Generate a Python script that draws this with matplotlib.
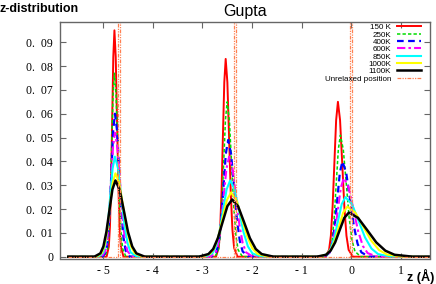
import matplotlib
matplotlib.use("Agg")
import matplotlib.pyplot as plt

# ---- data ----
labels = ["150 K", "250K", "400K", "600K", "850K", "1000K", "1100K"]

x_150 = [-5.70, -4.928, -4.883, -4.860, -4.838, -4.815, -4.793, -4.770, -4.744, -4.718, -4.692, -4.666, -4.640, -4.588,
         -2.726, -2.670, -2.642, -2.614, -2.586, -2.558, -2.530, -2.496, -2.462, -2.428, -2.394, -2.360, -2.292,
         -0.519, -0.448, -0.412, -0.377, -0.341, -0.306, -0.270, -0.227, -0.184, -0.141, -0.098, -0.055, 0.031, 1.60]
y_150 = [0, 0, .0042, .0128, .0309, .0577, .0838, .0950, .0838, .0577, .0309, .0128, .0042, 0,
         0, .0037, .0112, .0270, .0504, .0732, .0830, .0732, .0504, .0270, .0112, .0037, 0,
         0, .0029, .0088, .0211, .0395, .0573, .0650, .0573, .0395, .0211, .0088, .0029, 0, 0]

x_250 = [-5.70, -4.963, -4.908, -4.880, -4.853, -4.825, -4.798, -4.770, -4.737, -4.704, -4.671, -4.638, -4.605, -4.539,
         -2.745, -2.675, -2.640, -2.605, -2.570, -2.535, -2.500, -2.456, -2.412, -2.368, -2.324, -2.280, -2.192,
         -0.511, -0.428, -0.386, -0.345, -0.303, -0.262, -0.220, -0.162, -0.103, -0.045, 0.014, 0.073, 0.190, 1.60]
y_250 = [0, 0, .0034, .0104, .0250, .0467, .0679, .0770, .0679, .0467, .0250, .0104, .0034, 0,
         0, .0029, .0088, .0211, .0395, .0573, .0650, .0573, .0395, .0211, .0088, .0029, 0,
         0, .0022, .0069, .0166, .0310, .0450, .0510, .0450, .0310, .0166, .0069, .0022, 0, 0]

x_400 = [-5.70, -5.002, -4.933, -4.898, -4.864, -4.829, -4.795, -4.760, -4.717, -4.674, -4.631, -4.588, -4.545, -4.459,
         -2.806, -2.713, -2.666, -2.620, -2.573, -2.527, -2.480, -2.422, -2.363, -2.305, -2.246, -2.188, -2.071,
         -0.537, -0.435, -0.384, -0.333, -0.282, -0.231, -0.180, -0.104, -0.027, 0.050, 0.126, 0.203, 0.356, 1.60]
y_400 = [0, 0, .0026, .0081, .0195, .0364, .0529, .0600, .0529, .0364, .0195, .0081, .0026, 0,
         0, .0022, .0066, .0159, .0297, .0432, .0490, .0432, .0297, .0159, .0066, .0022, 0,
         0, .0018, .0054, .0130, .0243, .0353, .0400, .0353, .0243, .0130, .0054, .0018, 0, 0]

x_600 = [-5.70, -5.030, -4.953, -4.914, -4.876, -4.837, -4.799, -4.760, -4.710, -4.659, -4.609, -4.558, -4.508, -4.407,
         -2.842, -2.733, -2.678, -2.624, -2.569, -2.515, -2.460, -2.392, -2.324, -2.256, -2.188, -2.120, -1.984,
         -0.567, -0.448, -0.388, -0.329, -0.269, -0.210, -0.150, -0.055, 0.041, 0.137, 0.232, 0.328, 0.519, 1.60]
y_600 = [0, 0, .0023, .0070, .0169, .0316, .0459, .0520, .0459, .0316, .0169, .0070, .0023, 0,
         0, .0018, .0057, .0137, .0255, .0370, .0420, .0370, .0255, .0137, .0057, .0018, 0,
         0, .0015, .0045, .0107, .0200, .0291, .0330, .0291, .0200, .0107, .0045, .0015, 0, 0]

x_850 = [-5.70, -5.089, -4.995, -4.948, -4.901, -4.854, -4.807, -4.760, -4.697, -4.633, -4.570, -4.506, -4.443, -4.316,
         -2.941, -2.798, -2.726, -2.655, -2.583, -2.512, -2.440, -2.351, -2.261, -2.172, -2.082, -1.993, -1.814,
         -0.631, -0.485, -0.412, -0.339, -0.266, -0.193, -0.120, 0.012, 0.143, 0.275, 0.406, 0.538, 0.801, 1.60]
y_850 = [0, 0, .0018, .0057, .0137, .0255, .0370, .0420, .0370, .0255, .0137, .0057, .0018, 0,
         0, .0014, .0043, .0104, .0194, .0282, .0320, .0282, .0194, .0104, .0043, .0014, 0,
         0, .0011, .0034, .0081, .0152, .0221, .0250, .0221, .0152, .0081, .0034, .0011, 0, 0]

x_1000 = [-5.70, -5.135, -5.025, -4.970, -4.915, -4.860, -4.805, -4.750, -4.673, -4.596, -4.519, -4.442, -4.365, -4.211,
          -3.012, -2.843, -2.758, -2.674, -2.589, -2.505, -2.420, -2.314, -2.208, -2.102, -1.996, -1.890, -1.678,
          -0.668, -0.500, -0.416, -0.332, -0.248, -0.164, -0.080, 0.080, 0.239, 0.399, 0.558, 0.718, 1.037, 1.60]
y_1000 = [0, 0, .0015, .0047, .0114, .0212, .0309, .0350, .0309, .0212, .0114, .0047, .0015, 0,
          0, .0012, .0036, .0088, .0164, .0238, .0270, .0238, .0164, .0088, .0036, .0012, 0,
          0, .0009, .0028, .0068, .0127, .0185, .0210, .0185, .0127, .0068, .0028, .0009, 0, 0]

x_1100 = [-5.70, -5.174, -5.053, -4.992, -4.932, -4.871, -4.811, -4.750, -4.666, -4.581, -4.497, -4.412, -4.328, -4.159,
          -3.069, -2.878, -2.782, -2.687, -2.591, -2.496, -2.400, -2.281, -2.162, -2.043, -1.924, -1.805, -1.567,
          -0.694, -0.510, -0.418, -0.326, -0.234, -0.142, -0.050, 0.134, 0.318, 0.502, 0.686, 0.870, 1.238, 1.60]
y_1100 = [0, 0, .0014, .0043, .0104, .0194, .0282, .0320, .0282, .0194, .0104, .0043, .0014, 0,
          0, .0011, .0032, .0078, .0146, .0212, .0240, .0212, .0146, .0078, .0032, .0011, 0,
          0, .0008, .0025, .0060, .0112, .0163, .0185, .0163, .0112, .0060, .0025, .0008, 0, 0]

unrelaxed = [-4.69, -2.36, -0.02]

xticks = [-5, -4, -3, -2, -1, 0, 1]
xtick_labels = ["- 5", "- 4", "- 3", "- 2", "- 1", "0", "1"]
yticks = [0, 0.01, 0.02, 0.03, 0.04, 0.05, 0.06, 0.07, 0.08, 0.09]
ytick_labels = ["0"] + ["0.  0%d" % i for i in range(1, 10)]

# ---- styles ----
styles = [
    dict(color="#ff0000", lw=1.4, ls="-"),
    dict(color="#00dd00", lw=1.1, ls=(0, (2.2, 1.4))),
    dict(color="#0000ff", lw=1.6, ls=(0, (3.0, 2.0))),
    dict(color="#ff00ff", lw=1.5, ls=(0, (4.0, 1.5, 1.2, 1.5))),
    dict(color="#00ffff", lw=1.5, ls="-"),
    dict(color="#ffff00", lw=1.5, ls="-"),
    dict(color="#000000", lw=1.8, ls="-"),
]
series = [(x_150, y_150), (x_250, y_250), (x_400, y_400), (x_600, y_600),
          (x_850, y_850), (x_1000, y_1000), (x_1100, y_1100)]

fig = plt.figure(figsize=(4.36, 2.84), dpi=100)
ax = fig.add_axes([60 / 436, 1 - 258.5 / 284, 370 / 436, 236.5 / 284])

for (xs, ys), lab, st in zip(series, labels, styles):
    ax.plot(xs, ys, label=lab, **st)

# unrelaxed position: baseline plus double vertical strokes
ux, uy = [-5.70], [0]
for p in unrelaxed:
    ux += [p, p, p + 0.04, p + 0.04]
    uy += [0, 1, 1, 0]
ux.append(1.60)
uy.append(0)
ax.plot(ux, uy, color="#ff8050", lw=0.9, ls=(0, (3, 1, 1, 1, 1, 1)),
        label="Unrelaxed position")

ax.set_xlim(-5.866, 1.584)
ax.set_ylim(-0.00076, 0.0985)

serif = "Liberation Serif"
ax.set_xticks(xticks)
ax.set_xticklabels(xtick_labels, fontfamily=serif, fontsize=8.5)
ax.set_yticks(yticks)
ax.set_yticklabels(ytick_labels, fontfamily=serif, fontsize=8.5)
ax.tick_params(direction="in", length=4, width=0.8, color="#666666",
               top=True, right=True, pad=5)
for sp in ax.spines.values():
    sp.set_color("#666666")
    sp.set_linewidth(1.0)

leg = ax.legend(loc="upper right", bbox_to_anchor=(0.976, 0.993),
                frameon=False, markerfirst=False,
                prop={"family": "Liberation Sans", "size": 5.8},
                handlelength=3.0, handletextpad=0.75, labelspacing=-0.04,
                borderpad=0, borderaxespad=0)

fig.text(0.0, 1 - 12 / 284, "z-distribution", fontsize=9, fontweight="bold",
         family="Liberation Sans", ha="left", va="baseline")
fig.text(245 / 436, 1 - 16 / 284, "Gupta", fontsize=11.5,
         family="Liberation Sans", ha="center", va="baseline")
fig.text(434 / 436, 1 - 281 / 284, "z (Å)", fontsize=9, fontweight="bold",
         family="Liberation Sans", ha="right", va="baseline")

fig.savefig("out.png", dpi=100)
